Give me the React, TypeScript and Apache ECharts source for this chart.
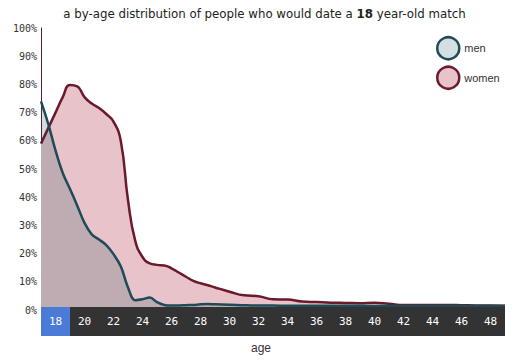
import React, { useEffect, useRef } from 'react';
import * as echarts from 'echarts';

const ages = [
  18, 18.5, 19, 19.5, 20, 20.5, 21, 21.5, 22, 22.5, 23, 23.5, 24, 24.5, 25, 25.5,
  26, 26.5, 27, 27.5, 28, 28.5, 29, 29.5, 30,
  31, 32, 33, 34, 35, 36, 37, 38, 39, 40, 41, 42, 43, 44, 45, 46, 47, 48, 49, 50,
];

const womenValues = [
  59, 64.5, 70, 75.5, 79.8, 79.3, 75.5, 73.2, 71.6, 69.5, 66.8, 60, 39, 24.5, 18.8, 16.5,
  16, 15.8, 14.8, 13.3, 11.8, 10.3, 9.5, 8.8, 8.0,
  6.5, 5.2, 4.9, 3.8, 3.7, 3.0, 2.8, 2.6, 2.5, 2.4, 2.6, 2.2, 1.8, 1.8, 1.8, 1.8, 1.7, 1.6, 1.6, 1.5,
];

const menValues = [
  74, 66, 56.6, 48.6, 42.9, 37, 30.9, 26.8, 25.0, 23, 19.8, 15.5, 8, 3.5, 3.8, 4.4,
  2.8, 1.8, 1.6, 1.6, 1.7, 1.8, 2.0, 2.1, 2.0,
  1.9, 1.7, 1.6, 1.6, 1.5, 1.5, 1.5, 1.5, 1.5, 1.5, 1.4, 1.4, 1.4, 1.4, 1.4, 1.4, 1.4, 1.4, 1.4, 1.4,
];

const bandLabels = ['18', '20', '22', '24', '26', '28', '30', '32', '34', '36', '38', '40', '42', '44', '46', '48'];
const highlightedBand = '18';

export default function App() {
  const ref = useRef<HTMLDivElement>(null);
  useEffect(() => {
    const chart = echarts.init(ref.current!, null, { renderer: 'svg' });
    const women = ages.map((a, i) => [a, womenValues[i]]);
    const men = ages.map((a, i) => [a, menValues[i]]);
    const band = bandLabels.map((l) => ({
      value: 1,
      itemStyle: { color: l === highlightedBand ? '#4a7bd6' : '#333333' },
    }));
    chart.setOption({
      animation: false,
      backgroundColor: '#ffffff',
      title: [
        {
          text: '{a|a by-age distribution of people who would date a }{b|18}{a| year-old match}',
          left: 'center',
          top: 8,
          padding: 0,
          textStyle: {
            fontWeight: 'normal',
            rich: {
              a: { fontFamily: 'DejaVu Sans', fontSize: 11.8, color: '#222', fontWeight: 'normal' },
              b: { fontFamily: 'DejaVu Sans', fontSize: 11.8, color: '#222', fontWeight: 'bold' },
            },
          },
        },
        {
          text: 'age',
          left: 261,
          top: 342,
          textAlign: 'center',
          padding: 0,
          textStyle: { fontFamily: 'Liberation Sans', fontSize: 12, color: '#333', fontWeight: 'normal' },
        },
      ],
      legend: {
        orient: 'vertical',
        left: 436,
        top: 36,
        padding: 0,
        itemWidth: 22,
        itemHeight: 22,
        itemGap: 5,
        icon: 'circle',
        textStyle: { fontFamily: 'Liberation Sans', fontSize: 11, color: '#333' },
        data: [
          { name: 'men', itemStyle: { color: '#d3dfe1', borderColor: '#1e4b58', borderWidth: 2.5 } },
          { name: 'women', itemStyle: { color: '#e8c3ca', borderColor: '#6a1a2b', borderWidth: 2.5 } },
        ],
        selectedMode: false,
      },
      grid: [
        { left: 41, top: 28, width: 464, height: 282 },
        { left: 41, top: 307, width: 464, height: 29 },
      ],
      xAxis: [
        { type: 'value', gridIndex: 0, min: 18, max: 50, show: false },
        { type: 'category', gridIndex: 1, data: bandLabels, show: false, boundaryGap: true },
      ],
      yAxis: [
        {
          type: 'value',
          gridIndex: 0,
          min: 0,
          max: 100,
          interval: 10,
          axisLine: { show: true, lineStyle: { color: '#5b1b28', width: 1 } },
          axisTick: { show: false },
          splitLine: { show: false },
          axisLabel: {
            formatter: '{value}%',
            fontFamily: 'DejaVu Sans Mono',
            fontSize: 10,
            color: '#333',
            margin: 4,
          },
        },
        { type: 'value', gridIndex: 1, min: 0, max: 1, show: false },
      ],
      series: [
        {
          name: 'women',
          type: 'line',
          xAxisIndex: 0,
          yAxisIndex: 0,
          data: women,
          smooth: 0.5,
          showSymbol: false,
          silent: true,
          lineStyle: { color: '#6a1a2b', width: 2.5 },
          itemStyle: { color: '#6a1a2b' },
          areaStyle: { color: '#e8c3ca', opacity: 1 },
          z: 2,
        },
        {
          name: 'men',
          type: 'line',
          xAxisIndex: 0,
          yAxisIndex: 0,
          data: men,
          smooth: 0.4,
          showSymbol: false,
          silent: true,
          lineStyle: { color: '#1e4b58', width: 2.5 },
          itemStyle: { color: '#1e4b58' },
          areaStyle: { color: 'rgba(29,74,87,0.2)', opacity: 1 },
          z: 3,
        },
        {
          type: 'bar',
          xAxisIndex: 1,
          yAxisIndex: 1,
          data: band,
          barCategoryGap: '0%',
          silent: true,
          z: 5,
          label: {
            show: true,
            position: 'inside',
            formatter: '{b}',
            fontFamily: 'DejaVu Sans Mono',
            fontSize: 11,
            color: '#ffffff',
          },
        },
      ],
    });
    return () => chart.dispose();
  }, []);
  return <div ref={ref} style={{ position: 'absolute', left: 0, top: 0, width: 529, height: 363 }} />;
}
